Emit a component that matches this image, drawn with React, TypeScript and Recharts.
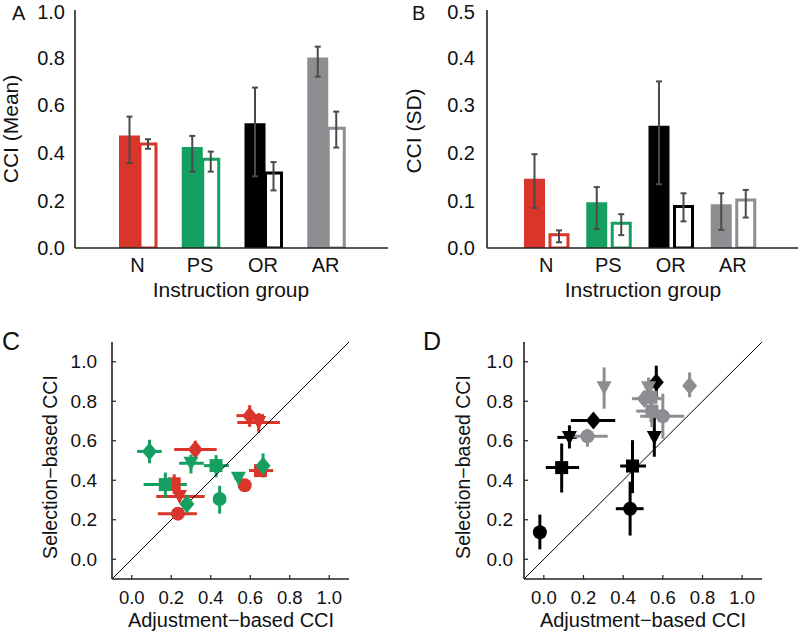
import React from 'react';
import { BarChart, Bar, XAxis, YAxis, ErrorBar, Cell, ScatterChart, Scatter, ReferenceLine } from 'recharts';

const FONT = '"Liberation Sans", Arial, Helvetica, sans-serif';
const RED = '#d9352a';
const GREEN = '#15a062';
const BLACK = '#000000';
const GRAY = '#8e8e92';
const ERR = '#4a4a4a';
const AXIS = '#222222';

// ---------- Panels A & B: bar data ----------
const groups = ['N', 'PS', 'OR', 'AR'];
const groupColors = [RED, GREEN, BLACK, GRAY];

const meanFilled = [0.473, 0.424, 0.524, 0.8];
const meanFilledLo = [0.357, 0.321, 0.301, 0.72];
const meanFilledHi = [0.552, 0.471, 0.674, 0.846];
const meanOpen = [0.437, 0.373, 0.315, 0.503];
const meanOpenLo = [0.417, 0.321, 0.242, 0.422];
const meanOpenHi = [0.457, 0.405, 0.361, 0.573];

const sdFilled = [0.1455, 0.096, 0.257, 0.092];
const sdFilledLo = [0.084, 0.04, 0.134, 0.038];
const sdFilledHi = [0.197, 0.128, 0.35, 0.115];
const sdOpen = [0.028, 0.052, 0.087, 0.101];
const sdOpenLo = [0.012, 0.027, 0.056, 0.064];
const sdOpenHi = [0.037, 0.071, 0.115, 0.122];

const meanTicks = [0, 0.2, 0.4, 0.6, 0.8, 1.0];
const sdTicks = [0, 0.1, 0.2, 0.3, 0.4, 0.5];
const scatterTicks = [0, 0.2, 0.4, 0.6, 0.8, 1.0];

// ---------- Panels C & D: scatter data [x, y, xLo, xHi, yLo, yHi, marker] ----------
type Pt = [number, number, number, number, number, number, string];
const cRed: Pt[] = [
  [0.322, 0.556, 0.215, 0.43, 0.51, 0.6, 'd'],
  [0.597, 0.727, 0.53, 0.67, 0.67, 0.78, 'd'],
  [0.643, 0.693, 0.535, 0.75, 0.64, 0.74, 'v'],
  [0.215, 0.382, 0.19, 0.24, 0.33, 0.43, 's'],
  [0.242, 0.318, 0.124, 0.369, 0.29, 0.35, 'v'],
  [0.234, 0.231, 0.132, 0.33, 0.2, 0.26, 'o'],
  [0.572, 0.375, 0.55, 0.59, 0.35, 0.4, 'o'],
  [0.652, 0.449, 0.594, 0.716, 0.42, 0.48, 's'],
];
const cGreen: Pt[] = [
  [0.09, 0.546, 0.027, 0.152, 0.486, 0.605, 'd'],
  [0.3, 0.486, 0.24, 0.365, 0.434, 0.53, 'v'],
  [0.427, 0.474, 0.365, 0.492, 0.415, 0.527, 's'],
  [0.17, 0.378, 0.06, 0.279, 0.31, 0.439, 's'],
  [0.279, 0.28, 0.25, 0.31, 0.236, 0.327, 'd'],
  [0.445, 0.305, 0.43, 0.46, 0.231, 0.372, 'o'],
  [0.54, 0.41, 0.52, 0.56, 0.39, 0.43, 'v'],
  [0.665, 0.474, 0.64, 0.69, 0.414, 0.536, 'd'],
];
const dBlack: Pt[] = [
  [-0.02, 0.137, -0.03, -0.01, 0.05, 0.226, 'o'],
  [0.09, 0.464, 0.01, 0.178, 0.338, 0.586, 's'],
  [0.129, 0.617, 0.068, 0.166, 0.561, 0.678, 'v'],
  [0.25, 0.703, 0.136, 0.36, 0.68, 0.72, 'd'],
  [0.435, 0.256, 0.363, 0.503, 0.12, 0.393, 'o'],
  [0.447, 0.472, 0.385, 0.515, 0.335, 0.603, 's'],
  [0.557, 0.617, 0.54, 0.575, 0.519, 0.737, 'v'],
  [0.567, 0.896, 0.555, 0.58, 0.82, 0.98, 'd'],
];
const dGray: Pt[] = [
  [0.304, 0.868, 0.29, 0.32, 0.762, 0.971, 'v'],
  [0.22, 0.623, 0.132, 0.322, 0.57, 0.66, 'o'],
  [0.506, 0.813, 0.444, 0.595, 0.78, 0.85, 'd'],
  [0.54, 0.82, 0.5, 0.58, 0.695, 0.905, 's'],
  [0.528, 0.868, 0.51, 0.55, 0.83, 0.92, 'v'],
  [0.545, 0.75, 0.466, 0.612, 0.67, 0.82, 's'],
  [0.6, 0.724, 0.486, 0.708, 0.611, 0.838, 'o'],
  [0.735, 0.879, 0.72, 0.75, 0.82, 0.946, 'd'],
];

const buildBars = (f: number[], fLo: number[], fHi: number[], o: number[], oLo: number[], oHi: number[]) =>
  groups.map((g, i) => ({
    g,
    filled: f[i],
    filledErr: [f[i] - fLo[i], fHi[i] - f[i]],
    open: o[i],
    openErr: [o[i] - oLo[i], oHi[i] - o[i]],
  }));

const buildPts = (pts: Pt[]) =>
  pts.map(([x, y, xl, xh, yl, yh, m]) => ({ x, y, ex: [x - xl, xh - x], ey: [y - yl, yh - y], m }));

const meanData = buildBars(meanFilled, meanFilledLo, meanFilledHi, meanOpen, meanOpenLo, meanOpenHi);
const sdData = buildBars(sdFilled, sdFilledLo, sdFilledHi, sdOpen, sdOpenLo, sdOpenHi);

const axisLine = { stroke: AXIS, strokeWidth: 1.6 };

function BarPanel(props: any) {
  const { data, domain, ticks, yWidth, right, padding, barGap, openSize, yGap } = props;
  return (
    <BarChart width={400} height={300} data={data} margin={{ top: 10, right, bottom: 22, left: 0 }} barGap={barGap} barCategoryGap={0}>
      <XAxis dataKey="g" height={30} padding={padding} axisLine={axisLine} tickLine={false} tickSize={0} tickMargin={10} interval={0}
        tick={{ fontSize: 20, fill: '#111', fontFamily: FONT }} />
      <YAxis type="number" width={yWidth} domain={domain} ticks={ticks} allowDataOverflow axisLine={axisLine} tickLine={false}
        tickSize={0} tickMargin={yGap} tickFormatter={(v: number) => v.toFixed(1)} tick={{ fontSize: 20, fill: '#111', fontFamily: FONT }} />
      <Bar dataKey="filled" barSize={21} isAnimationActive={false}>
        {data.map((_: any, i: number) => <Cell key={i} fill={groupColors[i]} />)}
        <ErrorBar dataKey="filledErr" width={3} stroke={ERR} strokeWidth={2} />
      </Bar>
      <Bar dataKey="open" barSize={openSize} isAnimationActive={false} strokeWidth={3}>
        {data.map((_: any, i: number) => <Cell key={i} fill="#ffffff" stroke={groupColors[i]} />)}
        <ErrorBar dataKey="openErr" width={3} stroke={ERR} strokeWidth={2} />
      </Bar>
    </BarChart>
  );
}

const Marker = (props: any) => {
  const { cx, cy, payload, fill } = props;
  const m = payload.m;
  if (m === 'o') return <circle cx={cx} cy={cy} r={7} fill={fill} />;
  if (m === 's') return <rect x={cx - 6.5} y={cy - 6.5} width={13} height={13} fill={fill} />;
  if (m === 'v') return <polygon points={`${cx - 7.5},${cy - 6.5} ${cx + 7.5},${cy - 6.5} ${cx},${cy + 7.5}`} fill={fill} />;
  return <polygon points={`${cx},${cy - 9} ${cx + 7.5},${cy} ${cx},${cy + 9} ${cx - 7.5},${cy}`} fill={fill} />;
};

const YTick = (props: any) => {
  const { x, y, payload, gap } = props;
  return (
    <g>
      <line x1={x + gap} x2={x + gap + 4} y1={y} y2={y} stroke={AXIS} strokeWidth={1.2} />
      <text x={x} y={y} dy="0.35em" textAnchor="end" fontSize={19} fill="#111" fontFamily={FONT}>{Number(payload.value).toFixed(1)}</text>
    </g>
  );
};
const XTick = (props: any) => {
  const { x, y, payload, gap } = props;
  return (
    <g>
      <line x1={x} x2={x} y1={y - gap} y2={y - gap - 4} stroke={AXIS} strokeWidth={1.2} />
      <text x={x} y={y} dy="0.72em" textAnchor="middle" fontSize={18.5} fill="#111" fontFamily={FONT}>{Number(payload.value).toFixed(1)}</text>
    </g>
  );
};

function ScatterPanel(props: any) {
  const { series, yWidth, right, yGap } = props;
  return (
    <ScatterChart width={400} height={336} margin={{ top: 42, right, bottom: 27, left: 0 }}>
      <XAxis type="number" dataKey="x" domain={[-0.1, 1.1]} ticks={scatterTicks} allowDataOverflow height={30} axisLine={axisLine}
        tickLine={false} tickSize={0} tickMargin={12} tick={(p: any) => <XTick {...p} gap={12} />} />
      <YAxis type="number" dataKey="y" domain={[-0.1, 1.1]} ticks={scatterTicks} allowDataOverflow width={yWidth} axisLine={axisLine}
        tickLine={false} tickSize={0} tickMargin={yGap} tick={(p: any) => <YTick {...p} gap={yGap} />} />
      {series.map((s: any, i: number) => (
        <Scatter key={i} data={s.data} fill={s.color} shape={Marker} isAnimationActive={false}>
          <ErrorBar dataKey="ex" direction="x" width={0} stroke={s.color} strokeWidth={3} />
          <ErrorBar dataKey="ey" direction="y" width={0} stroke={s.color} strokeWidth={3} />
        </Scatter>
      ))}
      <ReferenceLine segment={[{ x: -0.1, y: -0.1 }, { x: 1.1, y: 1.1 }]} stroke="#000" strokeWidth={1} ifOverflow="visible" />
    </ScatterChart>
  );
}

export default function App() {
  const abs = (left: number, top: number) => ({ position: 'absolute' as const, left, top });
  return (
    <div style={{ position: 'absolute', left: 0, top: 0, width: 800, height: 636, background: '#fff', fontFamily: FONT }}>
      <div style={abs(0, 0)}>
        <BarPanel data={meanData} domain={[0, 1]} ticks={meanTicks} yWidth={75} right={12} padding={{ left: 31, right: 31 }} barGap={0} openSize={16} yGap={10} />
      </div>
      <div style={abs(400, 0)}>
        <BarPanel data={sdData} domain={[0, 0.5]} ticks={sdTicks} yWidth={87} right={2} padding={{ left: 28, right: 34 }} barGap={5} openSize={18} yGap={12} />
      </div>
      <div style={abs(0, 300)}>
        <ScatterPanel series={[{ data: buildPts(cRed), color: RED }, { data: buildPts(cGreen), color: GREEN }]} yWidth={112} right={51} yGap={15} />
      </div>
      <div style={abs(400, 300)}>
        <ScatterPanel series={[{ data: buildPts(dBlack), color: BLACK }, { data: buildPts(dGray), color: GRAY }]} yWidth={124} right={38} yGap={11} />
      </div>
      <svg width={800} height={636} style={{ position: 'absolute', left: 0, top: 0, pointerEvents: 'none' }} fontFamily={FONT} fill="#111">
        <text x={12} y={20} fontSize={20}>A</text>
        <text x={412} y={20} fontSize={20}>B</text>
        <text x={2} y={350} fontSize={25}>C</text>
        <text x={423} y={350} fontSize={25}>D</text>
        <text transform="translate(18,129) rotate(-90)" textAnchor="middle" fontSize={21}>CCI (Mean)</text>
        <text transform="translate(421,131) rotate(-90)" textAnchor="middle" fontSize={21}>CCI (SD)</text>
        <text x={231} y={297} textAnchor="middle" fontSize={21}>Instruction group</text>
        <text x={643} y={297} textAnchor="middle" fontSize={21}>Instruction group</text>
        <text transform="translate(57,467) rotate(-90)" textAnchor="middle" fontSize={19.5}>Selection−based CCI</text>
        <text transform="translate(470,467) rotate(-90)" textAnchor="middle" fontSize={19.5}>Selection−based CCI</text>
        <text x={231} y={627} textAnchor="middle" fontSize={20}>Adjustment−based CCI</text>
        <text x={643} y={627} textAnchor="middle" fontSize={20}>Adjustment−based CCI</text>
      </svg>
    </div>
  );
}
